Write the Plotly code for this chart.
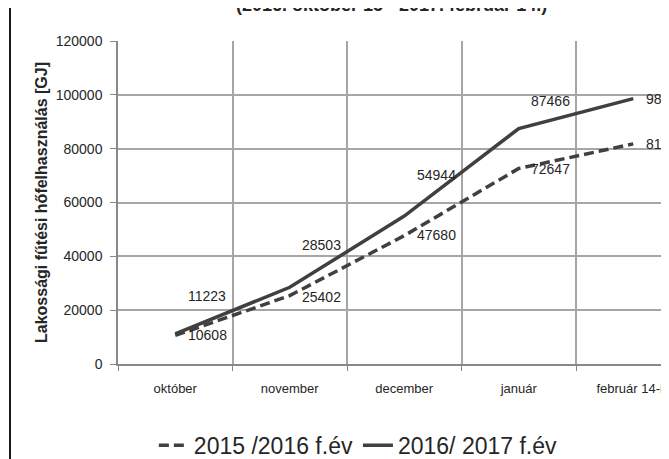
import plotly.graph_objects as go

categories = ["október", "november", "december", "január", "február 14-ig"]
series_2015 = [10608, 25402, 47680, 72647, 81780]
series_2016 = [11223, 28503, 54944, 87466, 98610]
y_ticks = [0, 20000, 40000, 60000, 80000, 100000, 120000]

FONT = "Liberation Sans, Arial, sans-serif"
LINE_COLOR = "#404040"
GRID = "#a6a6a6"

fig = go.Figure()
fig.add_trace(go.Scatter(
    x=categories, y=series_2015, mode="lines", name="2015 /2016 f.év",
    line=dict(color=LINE_COLOR, width=3.5, dash="10px,5px"),
))
fig.add_trace(go.Scatter(
    x=categories, y=series_2016, mode="lines", name="2016/ 2017 f.év",
    line=dict(color=LINE_COLOR, width=3.5),
))

# data labels (offsets in pixels)
shift_2015 = [0, -1, 1, -1, 0]
shift_2016 = [38, 42, 41, 28, 0]
for cat, v, ys in zip(categories, series_2015, shift_2015):
    fig.add_annotation(x=cat, y=v, text=str(v), showarrow=False, xshift=32, yshift=ys,
                       font=dict(family=FONT, size=14, color="#262626"))
for cat, v, ys in zip(categories, series_2016, shift_2016):
    fig.add_annotation(x=cat, y=v, text=str(v), showarrow=False, xshift=32, yshift=ys,
                       font=dict(family=FONT, size=14, color="#262626"))

# partially visible title at top
fig.add_annotation(xref="paper", yref="paper", x=0.49, y=1 + (33 - 8) / 337,
                   xanchor="center", yanchor="bottom", showarrow=False,
                   text="<b>(2016. október 15 - 2017. február 14.)</b>",
                   font=dict(family=FONT, size=18, color="#262626"))

# left frame border
fig.add_shape(type="line", xref="paper", yref="paper",
              x0=(2 - 110) / 559, x1=(2 - 110) / 559, y0=-89 / 337 - 0.05, y1=1 + 33 / 337 + 0.05,
              line=dict(color="#1a1a1a", width=2))

fig.update_layout(
    width=669, height=459,
    margin=dict(l=110, r=0, t=33, b=89),
    paper_bgcolor="white", plot_bgcolor="white",
    font=dict(family=FONT, size=14, color="#262626"),
    showlegend=True,
    legend=dict(orientation="h", x=0.43, xanchor="center", y=-0.185, yanchor="top",
                font=dict(family=FONT, size=23, color="#262626"),
                itemwidth=30, tracegroupgap=0),
)
fig.update_xaxes(
    type="category", range=[-0.5, -0.5 + 559 / 114.5],
    tickson="boundaries", ticks="outside", ticklen=5, tickcolor="#888888",
    ticklabelstandoff=12,
    showgrid=True, gridcolor=GRID, gridwidth=1.5,
    showline=True, linecolor="#888888", linewidth=1.5,
    tickfont=dict(family=FONT, size=13, color="#262626"),
)
fig.update_yaxes(
    range=[0, 120000], tickvals=y_ticks, ticktext=[str(v) for v in y_ticks],
    ticks="outside", ticklen=6, tickcolor="#888888",
    ticklabelstandoff=5,
    showgrid=True, gridcolor=GRID, gridwidth=1.5,
    showline=True, linecolor="#888888", linewidth=1.5, zeroline=False,
    tickfont=dict(family=FONT, size=14, color="#262626"),
    title=dict(text="<b>Lakossági fűtési hőfelhasználás [GJ]</b>", standoff=4,
               font=dict(family=FONT, size=16, color="#262626")),
)

fig.write_html("out.html")
